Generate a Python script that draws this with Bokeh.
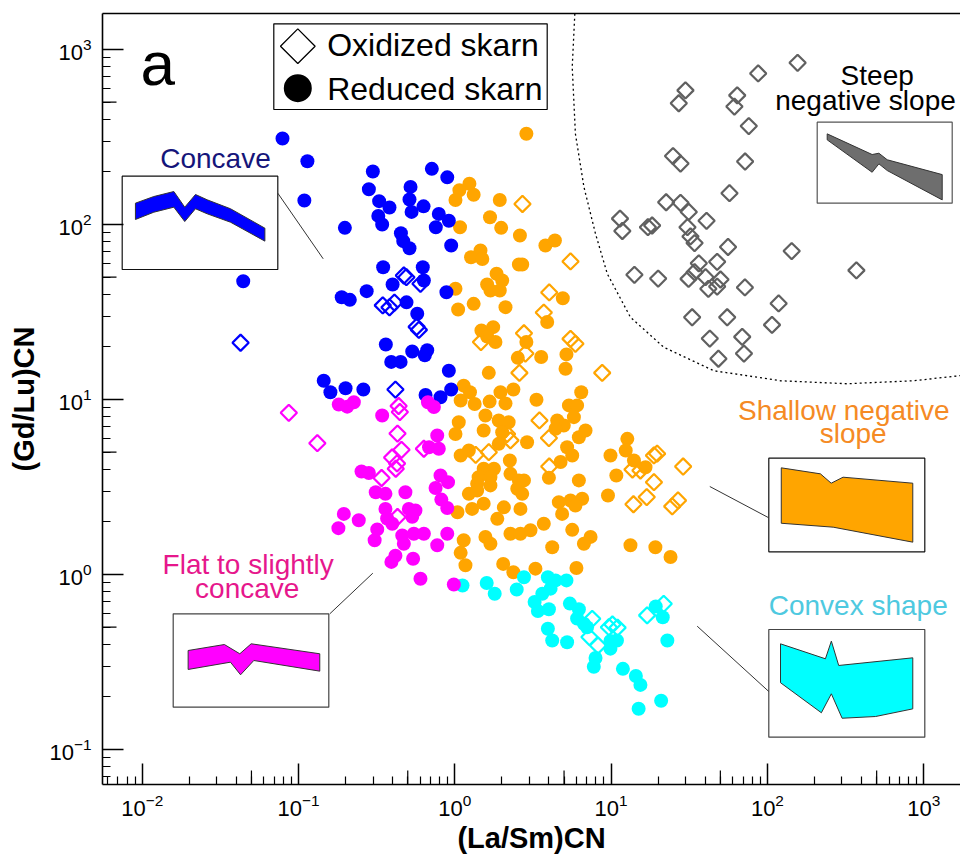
import math
from bokeh.plotting import figure
from bokeh.models import Label, LogAxis, FixedTicker, Range1d, LogTickFormatter
from bokeh.embed import file_html
from bokeh.resources import INLINE

# ---------------- data ----------------
blue_red_x = [0.079, 0.114, 0.109, 0.198, 0.0443, 0.299, 0.282, 0.328, 0.382, 0.324,
              0.343, 0.521, 0.513, 0.529, 0.631, 0.713, 0.895, 0.79, 0.916, 0.756,
              0.452, 0.468, 0.513, 0.948, 0.348, 0.624, 0.40, 0.634, 0.884, 0.491,
              0.575, 0.189, 0.213, 0.273, 0.362, 0.392, 0.45, 0.534, 0.666, 0.643,
              0.916, 0.145, 0.16, 0.20, 0.26, 0.65, 0.81, 0.948]
blue_red_y = [310, 230, 137, 95.7, 47.4, 201, 159, 136, 125, 112,
              100, 164, 139, 118, 127, 208, 186, 115, 105, 96.5,
              89.1, 80.3, 73.2, 75.9, 57, 57, 45.4, 47.9, 41, 35.9,
              30.9, 38.4, 37.1, 41.6, 20.6, 16.4, 16.4, 18.8, 19.1, 17.9,
              14.6, 12.8, 11.0, 11.6, 11.4, 10.6, 10.3, 11.4]
blue_ox_x = [0.0426, 0.472, 0.49, 0.603, 0.346, 0.382, 0.411, 0.589, 0.57, 0.417]
blue_ox_y = [21.1, 51.1, 50, 45.8, 34.5, 33.6, 35.8, 25, 26, 11.4]

mag_red_x = [0.181, 0.205, 0.226, 0.343, 0.673, 0.735, 0.772, 0.684, 0.79, 0.253,
             0.282, 0.81, 0.905, 0.753, 0.82, 0.895, 0.312, 0.36, 0.483, 0.36,
             0.508, 0.56, 0.534, 0.195, 0.243, 0.18, 0.369, 0.398, 0.319, 0.307,
             0.461, 0.547, 0.634, 0.895, 0.472, 0.772, 0.417, 0.393, 0.541, 0.603,
             0.986]
mag_red_y = [9.36, 9.1, 9.65, 8.1, 9.65, 9.06, 6.23, 5.34, 5.23, 3.88,
             3.80, 3.68, 3.37, 3.12, 2.68, 2.40, 2.95, 2.89, 2.95, 2.37,
             2.37, 2.32, 2.14, 2.22, 2.04, 1.84, 2.09, 1.95, 1.81, 1.57,
             1.67, 1.71, 1.71, 1.71, 1.50, 1.47, 1.28, 1.18, 1.23, 0.945,
             0.877]
mag_ox_x = [0.0867, 0.132, 0.437, 0.445, 0.43, 0.456, 0.397, 0.427, 0.419, 0.34, 0.634, 0.43]
mag_ox_y = [8.39, 5.63, 9.18, 8.48, 6.39, 5.16, 4.66, 4.31, 4.02, 3.56, 5.23, 2.13]

ora_red_x = [2.87, 1.24, 1.07, 1.32, 1.01, 1.94, 1.68, 1.98, 1.08, 2.61,
             3.80, 4.37, 1.46, 1.27, 1.50, 2.57, 2.70, 1.85, 2.01, 1.61,
             1.69, 1.94, 1.01, 1.05, 1.32, 2.11, 4.91, 3.90, 1.48, 1.76,
             1.61, 1.82, 2.87, 2.53, 3.57, 5.18, 5.11, 1.65, 1.14, 1.25,
             1.09, 1.34, 1.67, 1.96, 2.11, 2.37, 3.33, 6.44, 5.37, 6.06,
             1.57, 1.06, 1.01, 1.53, 1.91, 2.21, 2.01, 4.52, 4.98, 5.78,
             4.41, 6.22, 6.86, 2.90, 1.91, 1.09, 1.23, 5.23, 5.64, 4.75,
             2.25, 1.53, 1.78, 1.42, 1.69, 1.39, 1.69, 2.27, 2.57, 2.77,
             2.51, 2.70, 4.0, 6.22, 1.23, 1.39, 1.53, 1.29, 1.04, 2.06,
             2.63, 1.87, 4.63, 5.50, 6.53, 5.91, 4.86, 3.71, 2.27, 2.63,
             3.05, 1.57, 1.69, 1.14, 1.09, 1.17, 4.20, 5.64, 7.39, 6.70,
             2.04, 2.37, 3.28, 6.0, 9.91, 10.8, 9.55, 12.7, 12.4, 14.0,
             16.6, 13.3, 19.2, 24.0]
ora_red_y = [330, 171, 157, 148, 138, 138, 110, 95.7, 96.5, 86.6,
             75.9, 81, 71, 65, 63.5, 59.1, 59.1, 52.3, 47.9, 45.4,
             42, 42, 42.9, 32.7, 35.2, 33.7, 37.9, 27.7, 24.8, 25.9,
             22.9, 21.3, 21.3, 17.3, 17.5, 18.1, 15.0, 14.2, 12.0, 11.0,
             9.87, 9.43, 9.73, 11.0, 9.5, 11.4, 9.96, 11.0, 9.25, 9.25,
             8.1, 7.42, 6.35, 6.65, 7.59, 7.42, 6.5, 7.59, 7.1, 7.93,
             6.8, 6.09, 6.65, 5.70, 5.58, 4.79, 5.11, 5.34, 4.79, 4.39,
             4.48, 4.02, 4.02, 3.60, 3.60, 3.30, 3.23, 3.76, 3.45, 3.45,
             3.09, 2.89, 3.57, 3.45, 2.89, 3.02, 2.54, 2.37, 2.27, 2.42,
             2.37, 2.08, 2.59, 2.65, 2.71, 2.48, 2.22, 1.95, 1.71, 1.71,
             1.79, 1.64, 1.50, 1.57, 1.33, 1.13, 1.43, 1.80, 1.64, 1.50,
             1.15, 1.03, 1.08, 1.09, 4.79, 3.68, 2.83, 5.96, 5.11, 4.48,
             4.10, 1.47, 1.43, 1.26]
ora_ox_x = [2.71, 5.50, 4.02, 3.71, 2.77, 1.47, 5.50, 5.91, 2.83, 2.59, 8.77, 3.48, 4.0, 2.16,
            2.27, 1.65, 1.36, 4.02, 13.7, 15.4, 18.8, 19.7, 28.9, 18.8, 16.9, 13.9, 24.6, 26.8]
ora_ox_y = [131, 61.5, 40.9, 31.4, 23.9, 21.3, 22.2, 20.8, 18.3, 14.2, 14.2, 7.59, 6.02, 6.35,
            5.84, 5.0, 4.83, 4.14, 3.98, 3.93, 4.79, 4.90, 4.14, 3.37, 2.77, 2.52, 2.45, 2.65]

cyan_red_x = [1.12, 1.60, 1.80, 2.49, 2.77, 3.94, 4.41, 5.18, 4.10, 3.63,
              3.24, 3.40, 4.0, 5.45, 6.22, 6.06, 6.70, 7.02, 3.94, 4.20,
              5.23, 9.9, 10.9, 9.9, 7.95, 7.75, 11.9, 14.4, 15.4, 20.9,
              15.0, 19.3, 21.4, 22.9]
cyan_red_y = [0.866, 0.894, 0.776, 0.821, 0.965, 0.965, 0.925, 0.925, 0.83, 0.776,
              0.696, 0.619, 0.633, 0.682, 0.633, 0.561, 0.523, 0.50, 0.49, 0.42,
              0.41, 0.417, 0.42, 0.377, 0.333, 0.297, 0.289, 0.263, 0.234, 0.19,
              0.171, 0.656, 0.57, 0.42]
cyan_ox_x = [7.57, 7.27, 8.25, 9.68, 10.2, 11.0, 17.0, 21.7]
cyan_ox_y = [0.558, 0.439, 0.393, 0.50, 0.518, 0.497, 0.584, 0.68]

gray_ox_x = [156, 87.3, 29.9, 27.1, 64.1, 61.5, 76, 24.9, 27.8, 72,
             57.2, 22.5, 27.8, 31.4, 40.8, 11.4, 11.8, 17.2, 18.3, 30.8,
             32.2, 34.2, 56, 143, 371, 14.1, 20.0, 36.4, 47.7, 31.3,
             34.2, 40.2, 41.9, 50.1, 47.7, 71.8, 118, 107, 33, 55.3,
             42.8, 69, 48.6, 70.8]
gray_ox_y = [839, 730, 584, 493, 547, 472, 365, 246, 223, 229,
             151, 134, 133, 118, 105, 108, 91.8, 96.5, 98.7, 96.5,
             85.5, 78.3, 74.4, 70.5, 54.7, 51.6, 49.1, 60, 61.2, 48.9,
             53.4, 50, 42.9, 48.5, 44.2, 43.7, 35.4, 26.7, 29.5, 29.5,
             22.3, 22.8, 17.1, 18.3]

# dotted field boundary of the "steep negative slope" group
boundary_x = [5.86, 5.64, 5.91, 6.70, 7.95, 9.45, 13.3, 21.7, 45.4, 121, 324, 864, 1720]
boundary_y = [1600, 793, 330, 164, 88.4, 52.3, 29.5, 19.9, 14.6, 12.8, 12.3, 12.8, 13.7]

# major ticks (decades)
x_tick_exps = [-2, -1, 0, 1, 2, 3]
y_tick_exps = [-1, 0, 1, 2, 3]

# inset profile shapes (relative coordinates inside each inset box)
concave_u = [0.085, 0.203, 0.332, 0.402, 0.471, 0.546, 0.696, 0.917, 0.917, 0.696, 0.546, 0.471, 0.402, 0.332, 0.203, 0.085]
concave_v = [0.289, 0.218, 0.164, 0.332, 0.196, 0.253, 0.349, 0.557, 0.696, 0.493, 0.403, 0.349, 0.486, 0.332, 0.386, 0.464]
steep_u = [0.074, 0.407, 0.457, 0.519, 0.926, 0.926, 0.519, 0.457, 0.407, 0.074]
steep_v = [0.144, 0.399, 0.383, 0.464, 0.647, 0.959, 0.597, 0.514, 0.618, 0.218]
shallow_u = [0.08, 0.331, 0.40, 0.476, 0.923, 0.923, 0.413, 0.08]
shallow_v = [0.103, 0.167, 0.267, 0.203, 0.267, 0.897, 0.737, 0.695]
convex_u = [0.075, 0.363, 0.401, 0.448, 0.923, 0.923, 0.684, 0.47, 0.401, 0.337, 0.075]
convex_v = [0.133, 0.272, 0.108, 0.334, 0.263, 0.737, 0.808, 0.824, 0.597, 0.773, 0.494]
flat_u = [0.096, 0.329, 0.428, 0.501, 0.942, 0.942, 0.518, 0.433, 0.368, 0.096]
flat_v = [0.393, 0.329, 0.428, 0.321, 0.428, 0.614, 0.500, 0.653, 0.518, 0.596]

# ---------------- layout ----------------
W, H = 960, 860
FL, FR, FT, FB = 102, 960, 13, 784
XL, XR = -2.254, 3.2354
YB, YT = -1.2, 3.2057
FONT = "Liberation Sans"


def px2x(px):
    return 10 ** (XL + (px - FL) / (FR - FL) * (XR - XL))


def py2y(py):
    return 10 ** (YB + (FB - py) / (FB - FT) * (YT - YB))


p = figure(width=W, height=H, x_axis_type="log", y_axis_type="log",
           x_range=Range1d(10 ** XL, 10 ** XR), y_range=Range1d(10 ** YB, 10 ** YT),
           output_backend="svg", toolbar_location=None,
           min_border_left=FL, min_border_right=W - FR,
           min_border_top=FT, min_border_bottom=H - FB)
p.outline_line_color = None
p.grid.visible = False

x_major = [10.0 ** e for e in x_tick_exps]
x_minor = [m * 10.0 ** e for e in range(-3, 4) for m in range(2, 10)]
y_major = [10.0 ** e for e in y_tick_exps]
y_minor = [m * 10.0 ** e for e in range(-2, 4) for m in range(2, 10)]

for ax, maj, mnr in ((p.xaxis[0], x_major, x_minor), (p.yaxis[0], y_major, y_minor)):
    ax.ticker = FixedTicker(ticks=maj, minor_ticks=mnr)
    ax.formatter = LogTickFormatter()
    ax.axis_line_width = 1.6
    ax.axis_line_color = "black"
    ax.major_tick_in = 21
    ax.major_tick_out = 0
    ax.minor_tick_in = 8
    ax.minor_tick_out = 0
    ax.major_tick_line_width = 1.5
    ax.minor_tick_line_width = 1.2
    ax.major_tick_line_color = "black"
    ax.minor_tick_line_color = "black"
    ax.major_label_text_font = FONT
    ax.major_label_text_font_size = "22px"
    ax.major_label_text_color = "black"
    ax.axis_label_text_font = FONT
    ax.axis_label_text_font_size = "29px"
    ax.axis_label_text_font_style = "bold"
    ax.axis_label_text_color = "black"

p.xaxis[0].axis_label = "(La/Sm)CN"
p.xaxis[0].major_label_standoff = 9
p.xaxis[0].axis_label_standoff = 3
p.yaxis[0].axis_label = "(Gd/Lu)CN"
p.yaxis[0].major_label_standoff = 11
p.yaxis[0].axis_label_standoff = 6

top_axis = LogAxis(ticker=FixedTicker(ticks=[1.0], minor_ticks=[]), axis_line_width=1.6,
                   axis_line_color="black", major_tick_line_color=None,
                   minor_tick_line_color=None, major_label_text_font_size="10px",
                   major_label_text_color=None)
p.add_layout(top_axis, "above")

# longer ticks at the 5x positions
five_x = [5 * 10.0 ** e for e in range(-2, 3)]
five_y = [5 * 10.0 ** e for e in range(-1, 3)]
p.segment(x0=five_x, y0=[py2y(FB)] * len(five_x), x1=five_x, y1=[py2y(FB - 14)] * len(five_x),
          line_color="black", line_width=1.2)
p.segment(x0=[px2x(FL)] * len(five_y), y0=five_y, x1=[px2x(FL + 14)] * len(five_y), y1=five_y,
          line_color="black", line_width=1.2)

BLUE, MAG, ORA, CYAN, GRAY = "#0000ff", "#ff00ff", "#ffa500", "#00ffff", "#606060"

# boundary
p.line(boundary_x, boundary_y, line_color="black", line_width=1.3, line_dash="2 3")

# filled circles (reduced skarn)
for xs, ys, c in ((ora_red_x, ora_red_y, ORA), (cyan_red_x, cyan_red_y, CYAN),
                  (blue_red_x, blue_red_y, BLUE), (mag_red_x, mag_red_y, MAG)):
    p.scatter(xs, ys, marker="circle", size=14, fill_color=c, line_color=None)

# open diamonds (oxidized skarn)
for xs, ys, c in ((gray_ox_x, gray_ox_y, GRAY), (ora_ox_x, ora_ox_y, ORA),
                  (cyan_ox_x, cyan_ox_y, CYAN), (blue_ox_x, blue_ox_y, BLUE),
                  (mag_ox_x, mag_ox_y, MAG)):
    p.scatter(xs, ys, marker="square", angle=math.pi / 4, size=11.5, fill_color=None,
              line_color=c, line_width=2.2)

BASE_SHIFT = 0.37  # empirical: rendered baseline sits ~0.37 em lower than requested


def label(px, py, text, size, color="black", align="left"):
    p.add_layout(Label(x=px2x(px), y=py2y(py - BASE_SHIFT * size), text=text, text_font=FONT,
                       text_font_size=f"{size}px", text_color=color, text_align=align,
                       text_baseline="alphabetic"))


def inset(l, t, r, b, us, vs, fill, border):
    p.quad(left=[px2x(l)], right=[px2x(r)], top=[py2y(t)], bottom=[py2y(b)],
           fill_color="white", line_color=border, line_width=1.2)
    xs = [px2x(l + u * (r - l)) for u in us]
    ys = [py2y(t + v * (b - t)) for v in vs]
    p.patch(xs, ys, fill_color=fill, line_color="#333333", line_width=1)


def connector(x0, y0, x1, y1):
    p.segment(x0=[px2x(x0)], y0=[py2y(y0)], x1=[px2x(x1)], y1=[py2y(y1)],
              line_color="#333333", line_width=1)


# insets
inset(121.7, 175.7, 277.3, 269.0, concave_u, concave_v, BLUE, "#111111")
connector(277.3, 192.7, 322.7, 258.3)
label(215, 168.3, "Concave", 28, "#15157a", "center")

inset(816.7, 121.7, 951.7, 202.7, steep_u, steep_v, "#6e6e6e", "#555555")
label(876.7, 85, "Steep", 28, "black", "center")
label(865, 110, "negative slope", 28, "black", "center")

inset(768.3, 457.7, 924.3, 551.3, shallow_u, shallow_v, ORA, "#111111")
connector(709.3, 486.0, 768.3, 517.3)
label(843.3, 420, "Shallow negative", 28, "#f58a24", "center")
label(852.7, 443.3, "slope", 28, "#f58a24", "center")

inset(768.3, 629.0, 924.3, 736.7, convex_u, convex_v, CYAN, "#444444")
connector(696.7, 625.7, 768.3, 691.0)
label(857.7, 615, "Convex shape", 28, "#4ec9e0", "center")

inset(172.7, 613.3, 328.3, 706.7, flat_u, flat_v, MAG, "#444444")
connector(329.3, 613.3, 372.3, 572.7)
label(247.7, 574, "Flat to slightly", 28, "#e6178c", "center")
label(246.7, 598, "concave", 28, "#e6178c", "center")

# legend
p.quad(left=[px2x(273.3)], right=[px2x(546.7)], top=[py2y(23.3)], bottom=[py2y(109)],
       fill_color="white", line_color="black", line_width=1.2)
p.scatter([px2x(297.3)], [py2y(45.7)], marker="square", angle=math.pi / 4, size=24.5,
          fill_color=None, line_color="black", line_width=1.3)
p.scatter([px2x(297.3)], [py2y(87.7)], marker="circle", size=28, fill_color="black", line_color=None)
label(326.7, 56.7, "Oxidized skarn", 32)
label(326.7, 100, "Reduced skarn", 32)

# panel letter
label(140, 86, "a", 62)

open("out.html", "w").write(file_html(p, INLINE))
